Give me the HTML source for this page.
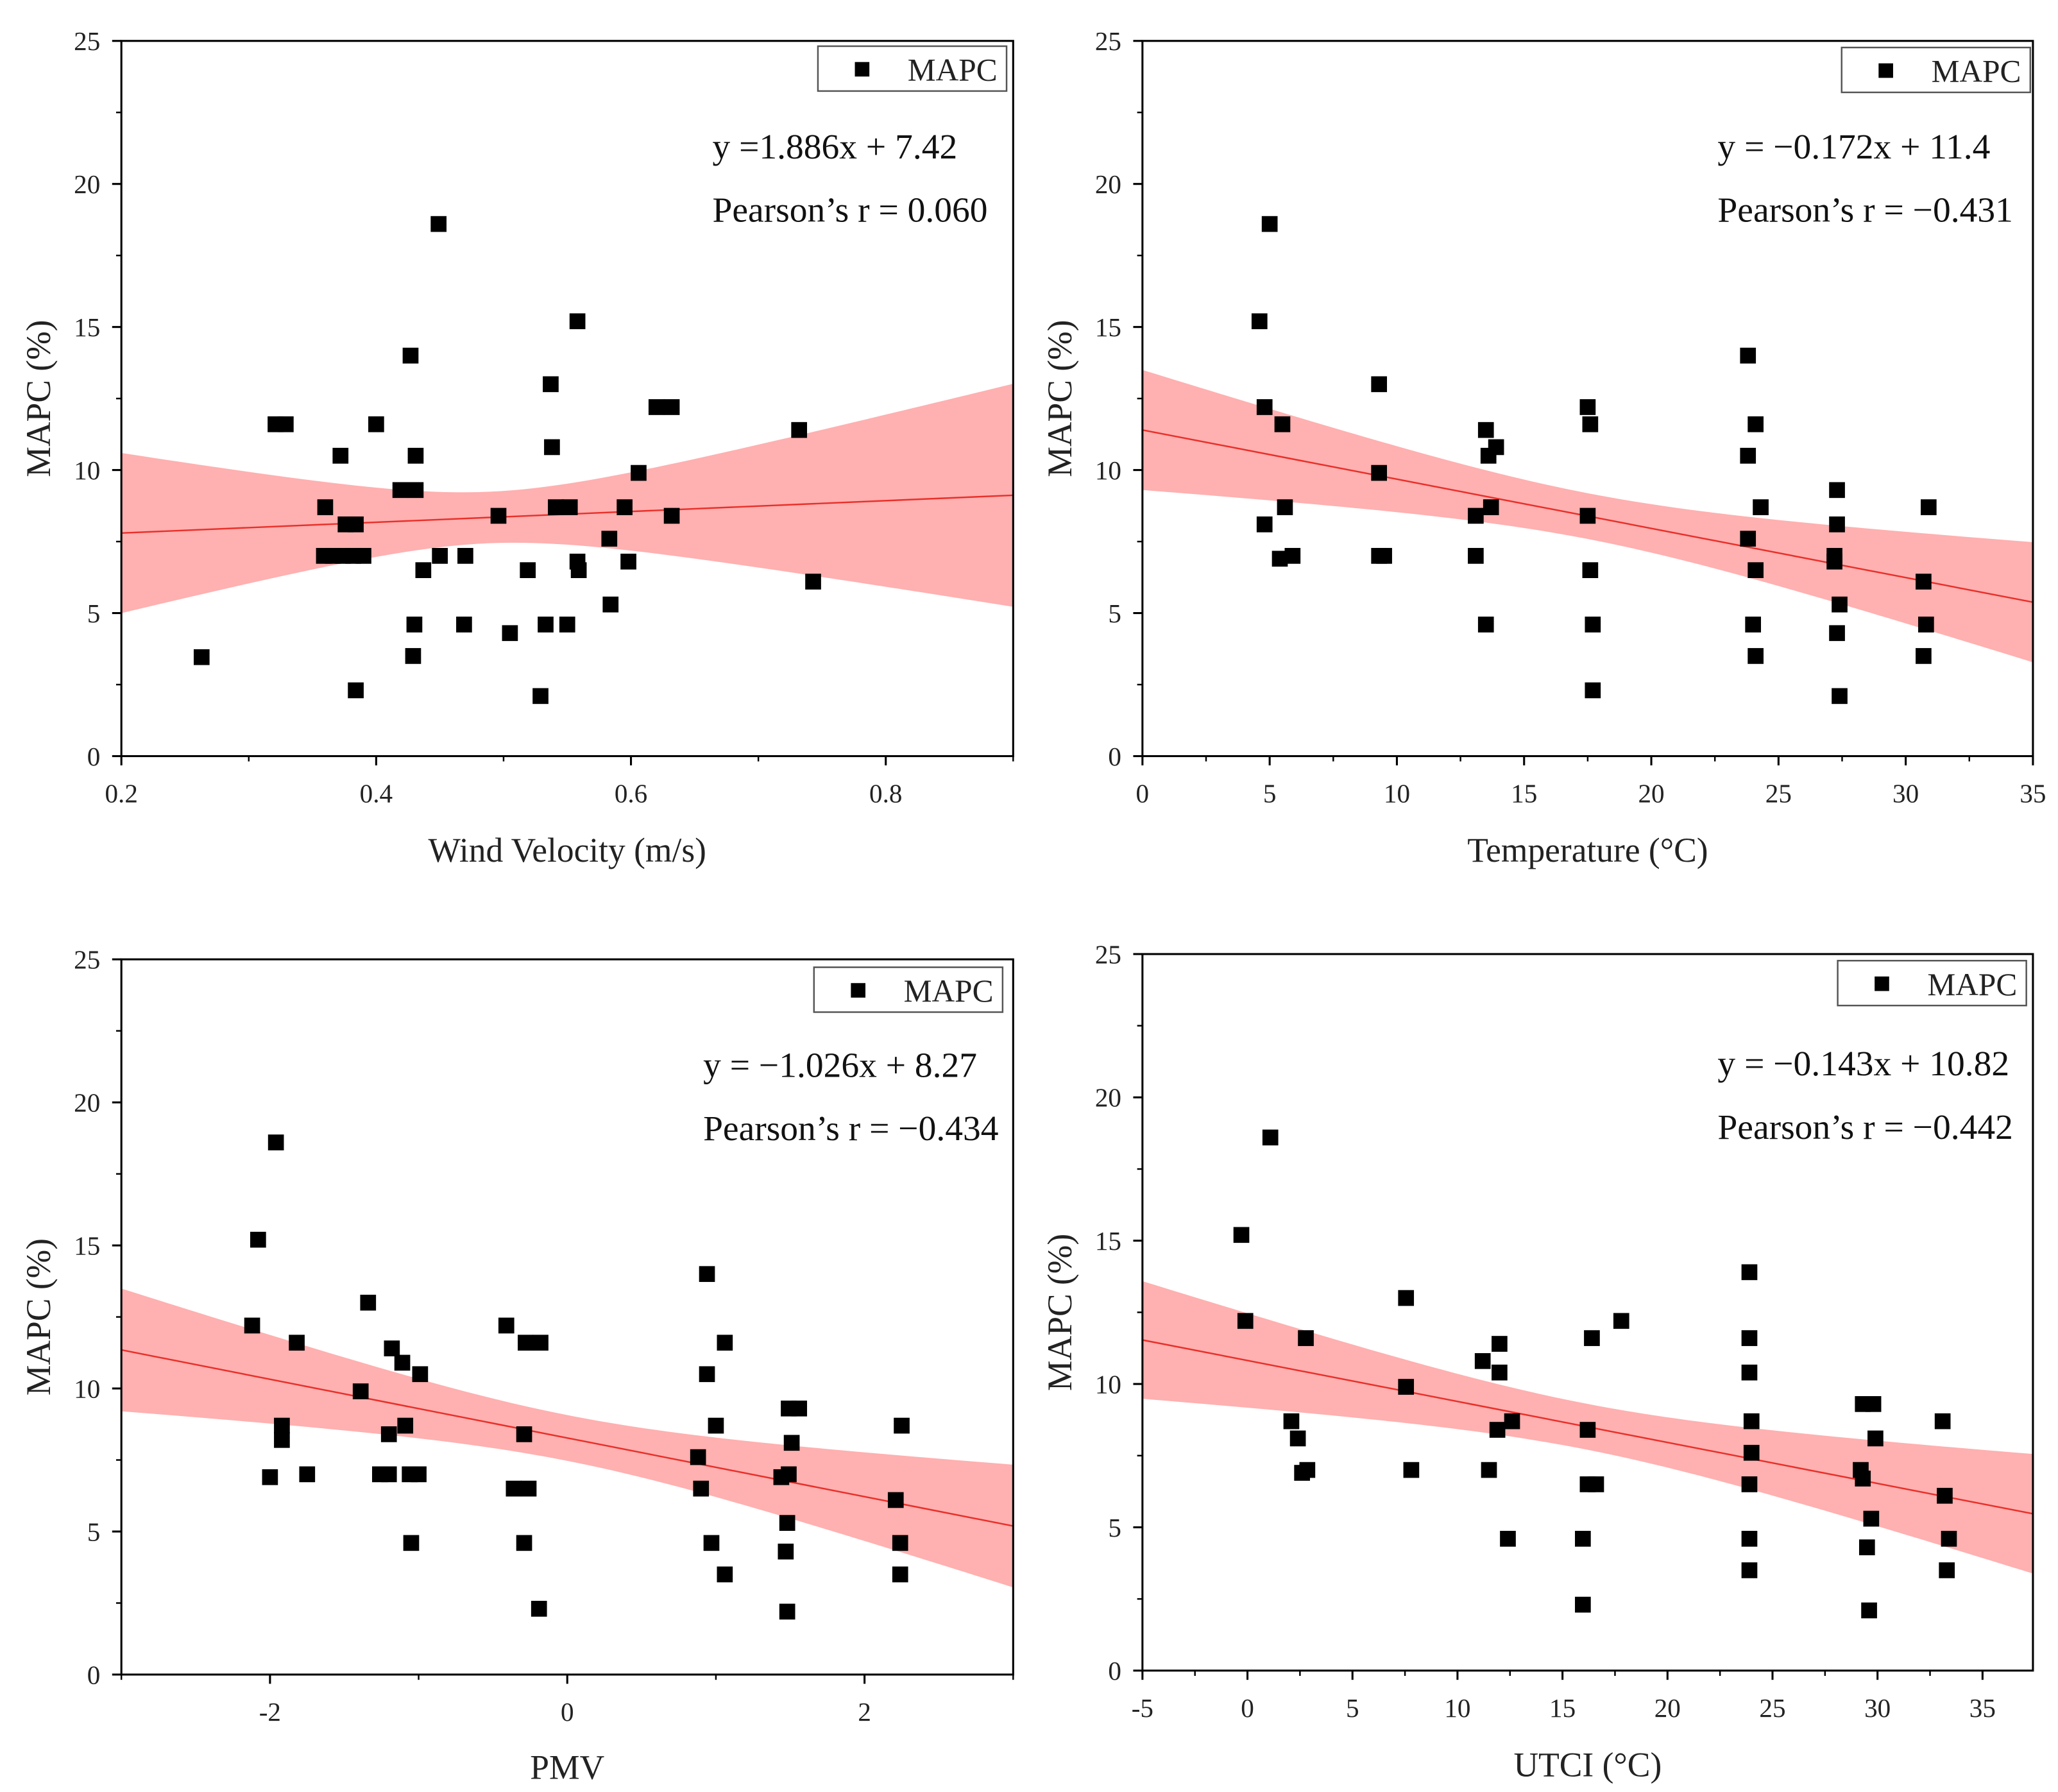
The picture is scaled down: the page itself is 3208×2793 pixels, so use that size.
<!DOCTYPE html>
<html><head><meta charset="utf-8"><style>
html,body{margin:0;padding:0;background:#fff;}
svg{display:block;font-family:"Liberation Serif",serif;}
</style></head><body>
<svg id="chart" width="3208" height="2793" viewBox="0 0 1560 1358" preserveAspectRatio="none" xmlns="http://www.w3.org/2000/svg"></svg>
<script>
// ---- Panel 1: Wind velocity ----
const windX=[0.263,0.321,0.329,0.372,0.360,0.359,0.366,0.374,0.382,0.390,0.376,0.384,0.384,0.400,0.419,0.431,0.427,0.431,0.437,0.430,0.429,0.449,0.450,0.469,0.470,0.496,0.505,0.519,0.529,0.533,0.537,0.538,0.541,0.552,0.550,0.558,0.558,0.559,0.583,0.584,0.595,0.598,0.606,0.620,0.632,0.632,0.732,0.743];
const windY=[3.46,11.6,11.6,10.5,8.7,7.0,7.0,7.0,7.0,7.0,8.1,8.1,2.3,11.6,9.3,9.3,14.0,10.5,6.5,4.6,3.5,18.6,7.0,4.6,7.0,8.4,4.3,6.5,2.1,4.6,13.0,10.8,8.7,8.7,4.6,15.2,6.8,6.5,7.6,5.3,8.7,6.8,9.9,12.2,12.2,8.4,11.4,6.1];
const windFit=[1.886,7.42,0.81,84.7,0.488]; // slope, intercept, minVar, curvature, centre
const windXTicks=["0.2","0.4","0.6","0.8"];
// ---- Panel 2: Temperature ----
const tempX=[4.6,5.0,4.8,4.8,5.5,5.6,5.4,5.9,9.3,9.3,9.3,9.5,13.1,13.1,13.5,13.6,13.9,13.7,13.5,17.5,17.6,17.5,17.6,17.7,17.7,23.8,23.8,24.1,24.3,23.8,24.1,24.0,24.1,27.3,27.3,27.2,27.2,27.4,27.3,27.4,30.9,30.7,30.8,30.7];
const tempY=[15.2,18.6,12.2,8.1,11.6,8.7,6.9,7.0,13.0,9.9,7.0,7.0,7.0,8.4,11.4,10.5,10.8,8.7,4.6,12.2,11.6,8.4,6.5,4.6,2.3,14.0,10.5,11.6,8.7,7.6,6.5,4.6,3.5,9.3,8.1,7.0,6.8,5.3,4.3,2.1,8.7,6.1,4.6,3.5];
const tempFit=[-0.172,11.4,0.64,0.0123,17.5];
const tempXTicks=["0","5","10","15","20","25","30","35"];
// ---- Panel 3: PMV ----
const pmvX=[-2.12,-2.08,-1.96,-2.0,-1.92,-1.92,-1.82,-1.75,-1.39,-1.34,-1.26,-1.2,-1.2,-1.18,-1.11,-1.09,-1.05,-1.06,-1.0,-0.99,-0.41,-0.36,-0.29,-0.29,-0.28,-0.26,-0.18,-0.19,0.88,0.9,0.94,0.94,0.97,1.0,1.06,1.06,1.44,1.49,1.48,1.47,1.48,1.49,1.56,1.51,2.21,2.25,2.24,2.24];
const pmvY=[12.2,15.2,18.6,6.9,8.7,8.2,11.6,7.0,9.9,13.0,7.0,7.0,8.4,11.4,10.9,8.7,4.6,7.0,7.0,10.5,12.2,6.5,8.4,4.6,11.6,6.5,11.6,2.3,7.6,6.5,14.0,10.5,4.6,8.7,11.6,3.5,6.9,7.0,5.3,4.3,2.2,9.3,9.3,8.1,6.1,8.7,4.6,3.5];
const pmvFit=[-1.026,8.27,0.64,0.44,0];
const pmvXTicks=["-2","0","2"];
// ---- Panel 4: UTCI ----
const utciX=[-0.29,-0.1,1.09,2.09,2.4,2.6,2.85,2.78,7.55,7.55,7.8,11.2,11.5,11.9,12.0,12.0,12.6,12.4,15.97,15.97,16.2,16.6,16.2,16.4,17.8,23.9,23.9,23.9,24.0,24.0,23.9,23.9,23.9,29.3,29.2,29.3,29.8,29.9,29.7,29.5,29.6,33.1,33.2,33.4,33.3];
const utciY=[15.2,12.2,18.6,8.7,8.1,6.9,7.0,11.6,13.0,9.9,7.0,10.8,7.0,8.4,11.4,10.4,8.7,4.6,4.6,2.3,6.5,6.5,8.4,11.6,12.2,13.9,11.6,10.4,8.7,7.6,6.5,4.6,3.5,6.7,7.0,9.3,9.3,8.1,5.3,4.3,2.1,8.7,6.1,4.6,3.5];
const utciFit=[-0.143,10.82,0.64,0.0081,16];
const utciXTicks=["-5","0","5","10","15","20","25","30","35"];
const yTicks=["0","5","10","15","20","25"];

const NS="http://www.w3.org/2000/svg";
const svg=document.getElementById('chart');
function mk(tag,attrs,parent){const e=document.createElementNS(NS,tag);for(const k in attrs)e.setAttribute(k,attrs[k]);(parent||svg).appendChild(e);return e;}

function panel(p){
  const g=mk('g',{});
  
  
  const sx=v=>p.x0+(v-p.xmin)/(p.xmax-p.xmin)*(p.x1-p.x0);
  const sy=v=>p.y0-(v/25)*(p.y0-p.y1);
  const f=p.fit;let up=[],lo=[];
  for(let i=0;i<=80;i++){const xv=p.xmin+(p.xmax-p.xmin)*i/80;const c=f[0]*xv+f[1];const hw=Math.sqrt(f[2]+f[3]*(xv-f[4])*(xv-f[4]));up.push(sx(xv)+','+sy(c+hw));lo.unshift(sx(xv)+','+sy(c-hw));}
  const band=mk('polygon',{points:up.concat(lo).join(' '),fill:'#ffb0b0',stroke:'none'},g);
  
  
  const fl=mk('line',{x1:sx(p.xmin),y1:sy(f[0]*p.xmin+f[1]),x2:sx(p.xmax),y2:sy(f[0]*p.xmax+f[1]),stroke:'#e8302a','stroke-width':1.2},g);
  
  
  const fr=mk('rect',{x:p.x0,y:p.y1,width:p.x1-p.x0,height:p.y0-p.y1,fill:'none',stroke:'#000','stroke-width':1.5},g);
  
  
  p.xt.forEach((t,i)=>{const v=parseFloat(t);const x=sx(v);
    mk('line',{x1:x,y1:p.y0,x2:x,y2:p.y0+7,stroke:'#000','stroke-width':1.5},g);
    const tx=mk('text',{x:x,y:p.y0+35,'font-size':20,'text-anchor':'middle',fill:'#222'},g);tx.textContent=t;
    
    
  });
  for(let v=p.xmin;v<=p.xmax+1e-9;v+=p.minor){mk('line',{x1:sx(v),y1:p.y0,x2:sx(v),y2:p.y0+4,stroke:'#000','stroke-width':1.2},g);}
  yTicks.forEach(t=>{const v=parseFloat(t);const y=sy(v);
    mk('line',{x1:p.x0-7,y1:y,x2:p.x0,y2:y,stroke:'#000','stroke-width':1.5},g);
    const tx=mk('text',{x:p.x0-16,y:y+7,'font-size':20,'text-anchor':'end',fill:'#222'},g);tx.textContent=t;
    
    
  });
  for(let v=2.5;v<25;v+=5){mk('line',{x1:p.x0-4,y1:sy(v),x2:p.x0,y2:sy(v),stroke:'#000','stroke-width':1.2},g);}
  p.xs.forEach((xv,i)=>{const r=mk('rect',{x:sx(xv)-6,y:sy(p.ys[i])-6,width:12,height:12,fill:'#000'},g);
    
    });
  const xtl=mk('text',{x:(p.x0+p.x1)/2,y:p.xtY,'font-size':26,'text-anchor':'middle',fill:'#222'},g);xtl.textContent=p.xtitle;
  
  
  const yc=(p.y0+p.y1)/2;
  const ytl=mk('text',{x:p.x0-54,y:yc,'font-size':26,'text-anchor':'middle',fill:'#222',transform:`rotate(-90 ${p.x0-54} ${yc})`},g);ytl.textContent='MAPC (%)';
  
  
  const lg=mk('g',{},g);
  
  
  mk('rect',{x:p.lx,y:p.ly,width:143,height:34,fill:'#fff',stroke:'#555','stroke-width':1.2},lg);
  mk('rect',{x:p.lx+28,y:p.ly+12,width:11,height:11,fill:'#000'},lg);
  const lt=mk('text',{x:p.lx+68,y:p.ly+26,'font-size':24,fill:'#222'},lg);lt.textContent='MAPC';
  const e1=mk('text',{x:p.ex,y:p.ey,'font-size':27,fill:'#111'},g);e1.textContent=p.eq;
  
  
  const e2=mk('text',{x:p.ex,y:p.ey+48,'font-size':27,fill:'#111'},g);e2.textContent=p.r;
  
  
}
panel({name:'wind-velocity-panel',x0:92,x1:768,y0:573,y1:31,xmin:0.2,xmax:0.9,minor:0.1,xt:windXTicks,xs:windX,ys:windY,fit:windFit,xtitle:'Wind Velocity (m/s)',xtY:653,lx:620,ly:35,ex:540,ey:120,eq:'y =1.886x + 7.42',r:'Pearson\u2019s r = 0.060'});
panel({name:'temperature-panel',x0:866,x1:1541,y0:573,y1:31,xmin:0,xmax:35,minor:2.5,xt:tempXTicks,xs:tempX,ys:tempY,fit:tempFit,xtitle:'Temperature (\u00B0C)',xtY:653,lx:1396,ly:36,ex:1302,ey:120,eq:'y = \u22120.172x + 11.4',r:'Pearson\u2019s r = \u22120.431'});
panel({name:'pmv-panel',x0:92,x1:768,y0:1269,y1:727,xmin:-3,xmax:3,minor:1,xt:pmvXTicks,xs:pmvX,ys:pmvY,fit:pmvFit,xtitle:'PMV',xtY:1348,lx:617,ly:733,ex:533,ey:816,eq:'y = \u22121.026x + 8.27',r:'Pearson\u2019s r = \u22120.434'});
panel({name:'utci-panel',x0:866,x1:1541,y0:1266,y1:723,xmin:-5,xmax:37.4,minor:2.5,xt:utciXTicks,xs:utciX,ys:utciY,fit:utciFit,xtitle:'UTCI (\u00B0C)',xtY:1346,lx:1393,ly:728,ex:1302,ey:815,eq:'y = \u22120.143x + 10.82',r:'Pearson\u2019s r = \u22120.442'});
</script>
</body></html>
